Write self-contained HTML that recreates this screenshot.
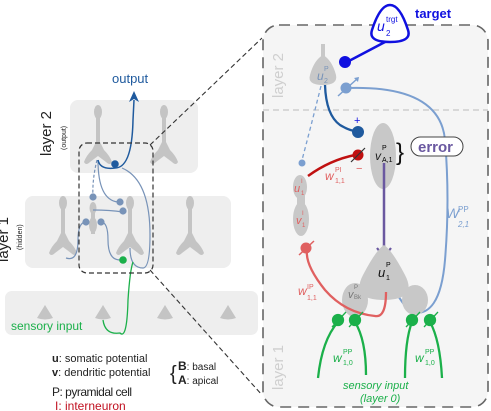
<!DOCTYPE html>
<html><head><meta charset="utf-8">
<style>
html,body{margin:0;padding:0;background:#fff;}
svg{display:block;font-family:"Liberation Sans",sans-serif;}
</style></head>
<body>
<svg width="491" height="411" viewBox="0 0 491 411">
<defs>
  <g id="pyr">
    <ellipse cx="0" cy="-40" rx="4" ry="7" fill="#c4c4c4"/>
    <rect x="-2" y="-36" width="4" height="26" fill="#c4c4c4"/>
    <path d="M0,-14 L-6,-2 Q-12,4 -14,10 Q-12,14 -8,10 L0,4 L8,10 Q12,14 14,10 Q12,4 6,-2 Z" fill="#c4c4c4"/>
  </g>
</defs>

<!-- left panel -->
<g>
  <rect x="70" y="100" width="128" height="73" rx="8" fill="#eeeeee"/>
  <rect x="25" y="196" width="206" height="72" rx="8" fill="#eeeeee"/>
  <rect x="5" y="291" width="253" height="44" rx="7" fill="#eeeeee"/>
  <use href="#pyr" x="98" y="152"/><use href="#pyr" x="164" y="152"/>
  <use href="#pyr" x="63" y="243"/><use href="#pyr" x="130" y="243"/><use href="#pyr" x="190" y="243"/>
  <ellipse cx="93" cy="208" rx="3.5" ry="6" fill="#c4c4c4"/>
  <rect x="91" y="208" width="4" height="26" fill="#c4c4c4"/>
  <ellipse cx="93" cy="225" rx="4" ry="8" fill="#c4c4c4"/>
  <g fill="#c4c4c4">
    <path d="M45,305 L37,318 Q45,321 53,318 Z"/><path d="M103,305 L95,318 Q103,321 111,318 Z"/>
    <path d="M165,305 L157,318 Q165,321 173,318 Z"/><path d="M228,305 L220,318 Q228,321 236,318 Z"/>
  </g>
  <g fill="none" stroke="#7893b8" stroke-width="1.2">
    <path d="M98,160 Q98,200 118,202"/>
    <path d="M97,160 Q92,180 93,198" stroke-dasharray="3,2"/>
    <path d="M93,210 Q110,210 123,212"/>
    <path d="M86,222 Q78,222 78,240 Q78,262 66,258"/>
    <path d="M101,222 Q108,222 108,240 Q108,260 120,260"/>
    <path d="M130,248 Q130,268 143,268 Q150,268 150,235 Q150,180 122,168"/>
  </g>
  <path d="M98,160 Q100,170 115,168 Q132,168 133,120 L134,100" fill="none" stroke="#1f5a9e" stroke-width="1.5"/>
  <path d="M134,91 L139,102 L134,99 L129,102 Z" fill="#1f5a9e"/>
  <path d="M133,262 Q130,270 128,300 Q127,340 120,333 Q105,335 103,320" fill="none" stroke="#1bb04a" stroke-width="1.3"/>
  <g fill="#7893b8">
    <circle cx="93" cy="197" r="3.6"/><circle cx="120" cy="202" r="3.6"/><circle cx="123" cy="211" r="3.6"/>
    <circle cx="86" cy="222" r="3.6"/><circle cx="101" cy="222" r="3.6"/>
  </g>
  <circle cx="115" cy="164" r="3.8" fill="#1f5a9e"/>
  <circle cx="123" cy="260" r="3.8" fill="#1bb04a"/>
  <rect x="79" y="143" width="74" height="130" rx="8" fill="none" stroke="#333" stroke-width="1.2" stroke-dasharray="5,3"/>
  <line x1="150" y1="145" x2="262" y2="38" stroke="#333" stroke-width="1.1" stroke-dasharray="5,3"/>
  <line x1="150" y1="270" x2="262" y2="395" stroke="#333" stroke-width="1.1" stroke-dasharray="5,3"/>
  <text x="112" y="83" font-size="13" fill="#1f5a9e">output</text>
  <text transform="translate(51,156) rotate(-90)" font-size="15" fill="#222">layer 2</text>
  <text transform="translate(66,150) rotate(-90)" font-size="7" fill="#222">(output)</text>
  <text transform="translate(8,262) rotate(-90)" font-size="15" fill="#222">layer 1</text>
  <text transform="translate(22,250) rotate(-90)" font-size="7" fill="#222">(hidden)</text>
  <text x="11" y="330" font-size="12" fill="#1bb04a">sensory input</text>
  <g font-size="11" fill="#222">
    <text x="52" y="362"><tspan font-weight="bold">u</tspan>: somatic potential</text>
    <text x="52" y="376"><tspan font-weight="bold">v</tspan>: dendritic potential</text>
    <text x="170" y="380" font-size="20" font-weight="300">{</text>
    <text x="178" y="370" font-size="10"><tspan font-weight="bold" font-size="12">B</tspan>: basal</text>
    <text x="178" y="384" font-size="10"><tspan font-weight="bold" font-size="12">A</tspan>: apical</text>
    <text x="52" y="396" font-size="12" letter-spacing="-0.5">P: pyramidal cell</text>
    <text x="55" y="410" font-size="12" fill="#c01020">I: interneuron</text>
  </g>
</g>

<!-- right panel -->
<g>
  <rect x="263" y="25" width="225" height="382" rx="16" fill="#f5f5f5" stroke="#666" stroke-width="1.6" stroke-dasharray="11,7"/>
  <line x1="263" y1="110" x2="488" y2="110" stroke="#c8c8c8" stroke-width="1.2" stroke-dasharray="6,4"/>
  <text transform="translate(283,98) rotate(-90)" font-size="15" fill="#cfcfcf">layer 2</text>
  <text transform="translate(283,390) rotate(-90)" font-size="15" fill="#cfcfcf">layer 1</text>

  <path d="M390,5 Q400,5 408,30 Q412,42 390,42 Q368,42 372,30 Q380,5 390,5 Z" fill="#fff" stroke="#1010e0" stroke-width="2.5"/>
  <text x="377" y="31" font-size="14" font-style="italic" fill="#1010e0">u</text>
  <text x="386" y="22" font-size="8" fill="#1010e0">trgt</text>
  <text x="386" y="36" font-size="8" fill="#1010e0">2</text>
  <text x="415" y="18" font-size="13" font-weight="bold" fill="#1010e0">target</text>
  <line x1="347" y1="62" x2="385" y2="42" stroke="#1010e0" stroke-width="2.5"/>
  <circle cx="345" cy="62" r="6" fill="#1010e0"/>

  <rect x="321" y="44" width="4" height="18" fill="#c8c8c8"/>
  <path d="M323,55 Q332,60 336,75 Q338,85 323,85 Q307,85 310,75 Q314,60 323,55 Z" fill="#c8c8c8"/>
  <text x="317" y="80" font-size="12" font-style="italic" fill="#7893b8">u</text>
  <text x="324" y="71" font-size="7" fill="#7893b8">P</text><text x="324" y="83" font-size="7" fill="#7893b8">2</text>

  <path d="M347,88 Q440,85 445,140 Q450,200 445,260 Q440,320 410,312 Q400,300 396,292" fill="none" stroke="#7b9fd0" stroke-width="2"/>
  <circle cx="346" cy="88" r="5.5" fill="#7b9fd0"/>
  <line x1="338" y1="96" x2="357" y2="79" stroke="#7b9fd0" stroke-width="1.5"/>
  <path d="M354,78 L359,77 L358,82 Z" fill="#7b9fd0"/>
  <text x="446" y="218" font-size="14" font-style="italic" fill="#7b9fd0">W</text>
  <text x="458" y="212" font-size="8" fill="#7b9fd0">PP</text>
  <text x="458" y="227" font-size="8" font-style="italic" fill="#7b9fd0">2,1</text>

  <path d="M325,85 Q326,115 340,125 Q350,131 356,131" fill="none" stroke="#1f5a9e" stroke-width="2.3"/>
  <circle cx="358" cy="132" r="6" fill="#1f5a9e"/>
  <text x="354" y="124" font-size="11" fill="#1010e0">+</text>
  <path d="M321,86 Q310,130 302,160" fill="none" stroke="#7b9fd0" stroke-width="1.3" stroke-dasharray="4,3"/>
  <circle cx="302" cy="163" r="3.5" fill="#7b9fd0"/>

  <ellipse cx="383" cy="156" rx="13" ry="33" fill="#c8c8c8"/>
  <text x="375" y="160" font-size="12" font-style="italic" fill="#222">v</text>
  <text x="382" y="150" font-size="7">P</text><text x="382" y="162" font-size="7">A,1</text>
  <text x="396" y="160" font-size="24" fill="#111">}</text>
  <rect x="411" y="137" width="52" height="19" rx="9.5" fill="#fff" stroke="#444" stroke-width="1"/>
  <text x="418" y="152" font-size="15" font-weight="bold" fill="#6a58a0">error</text>
  <line x1="384" y1="163" x2="384" y2="257" stroke="#6a58a0" stroke-width="2.5"/>
  <path d="M377,248 L384,257 L391,248" fill="none" stroke="#6a58a0" stroke-width="2.2"/>

  <ellipse cx="300" cy="187" rx="7" ry="12" fill="#c8c8c8"/>
  <ellipse cx="301" cy="219" rx="8" ry="17" fill="#c8c8c8"/>
  <rect x="297" y="195" width="8" height="10" fill="#c8c8c8"/>
  <text x="294" y="192" font-size="11" font-style="italic" fill="#e06060">u</text>
  <text x="301" y="183" font-size="6" fill="#e06060">I</text><text x="301" y="195" font-size="6" fill="#e06060">1</text>
  <text x="296" y="224" font-size="11" font-style="italic" fill="#e06060">v</text>
  <text x="302" y="215" font-size="6" fill="#e06060">I</text><text x="302" y="227" font-size="6" fill="#e06060">1</text>

  <path d="M308,176 Q330,160 355,155" fill="none" stroke="#c01010" stroke-width="2.5"/>
  <circle cx="358" cy="155" r="5.5" fill="#c01010"/>
  <line x1="351" y1="162" x2="365" y2="148" stroke="#333" stroke-width="1.2"/>
  <text x="356" y="172" font-size="11" fill="#e06060">−</text>
  <text x="325" y="180" font-size="12" font-style="italic" fill="#e06060">w</text>
  <text x="335" y="172" font-size="7" fill="#e06060">PI</text><text x="335" y="183" font-size="7" fill="#e06060">1,1</text>

  <path d="M384,245 Q392,250 405,275 Q418,300 384,300 Q350,300 363,275 Q376,250 384,245 Z" fill="#c8c8c8"/>
  <ellipse cx="355" cy="300" rx="13" ry="17" fill="#c8c8c8"/>
  <ellipse cx="415" cy="300" rx="13" ry="15" fill="#c8c8c8"/>
  <text x="378" y="277" font-size="13" font-style="italic" fill="#111">u</text>
  <text x="386" y="267" font-size="7">P</text><text x="386" y="280" font-size="7">1</text>
  <text x="348" y="298" font-size="11" font-style="italic" fill="#777">v</text>
  <text x="354" y="289" font-size="6" fill="#777">P</text><text x="354" y="299" font-size="6" fill="#777">Bk</text>

  <path d="M386,292 Q386,318 375,316 Q345,313 325,290 Q305,265 307,250" fill="none" stroke="#e06060" stroke-width="2.3"/>
  <circle cx="306" cy="248" r="5.5" fill="#e06060"/>
  <line x1="299" y1="255" x2="314" y2="241" stroke="#e06060" stroke-width="1.5"/>
  <text x="298" y="295" font-size="12" font-style="italic" fill="#e06060">w</text>
  <text x="307" y="289" font-size="7" fill="#e06060">IP</text><text x="307" y="300" font-size="7" fill="#e06060">1,1</text>

  <g stroke="#1bb04a" stroke-width="2.3" fill="none">
    <path d="M318,378 Q322,340 338,322"/><path d="M366,375 Q366,340 355,322"/>
    <path d="M405,378 Q405,340 412,322"/><path d="M442,378 Q440,340 430,322"/>
  </g>
  <g fill="#1bb04a" stroke="#1bb04a" stroke-width="1.3">
    <circle cx="338" cy="320" r="5.5"/><circle cx="355" cy="320" r="5.5"/>
    <circle cx="412" cy="320" r="5.5"/><circle cx="430" cy="320" r="5.5"/>
    <line x1="332" y1="327" x2="346" y2="312"/><line x1="349" y1="327" x2="363" y2="312"/>
    <line x1="406" y1="327" x2="420" y2="312"/><line x1="424" y1="327" x2="438" y2="312"/>
  </g>
  <g fill="#1bb04a" font-size="7">
    <text x="333" y="362" font-size="12" font-style="italic">w</text>
    <text x="343" y="354">PP</text><text x="343" y="365">1,0</text>
    <text x="415" y="362" font-size="12" font-style="italic">w</text>
    <text x="425" y="354">PP</text><text x="425" y="365">1,0</text>
    <text x="343" y="389" font-size="11" font-style="italic">sensory input</text>
    <text x="360" y="402" font-size="11" font-style="italic">(layer 0)</text>
  </g>
</g>
</svg>
</body></html>
